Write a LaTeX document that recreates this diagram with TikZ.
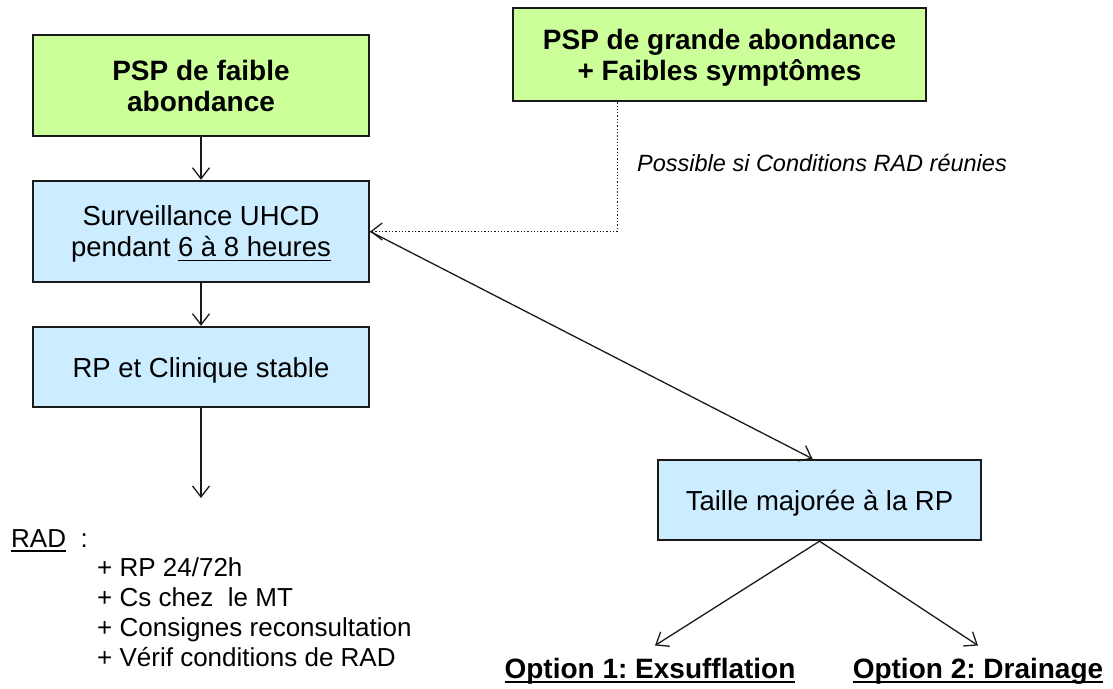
\documentclass[tikz,border=0pt]{standalone}
\usepackage{fontspec}
\setmainfont{Liberation Sans}
\usetikzlibrary{arrows.meta}
\definecolor{leafgreen}{HTML}{CCFF99}
\definecolor{paleblue}{HTML}{CCECFF}
\definecolor{edgeink}{HTML}{1A1A1A}
\frenchspacing
% underline drawn a fixed distance below the baseline, through descenders
\newcommand{\ulined}[2][1.4pt]{%
  \setbox0=\hbox{#2}\rlap{\rule[-4.5pt]{\wd0}{#1}}\box0}
\begin{document}
\begin{tikzpicture}[x=1pt,y=-1pt,
  box/.style={draw=edgeink, line width=2.4pt, align=center, inner sep=0pt},
  oneline/.style={text height=20pt, text depth=0pt},
  greenbox/.style={box, fill=leafgreen, font=\fontsize{28}{31}\selectfont\bfseries},
  bluebox/.style={box, fill=paleblue, font=\fontsize{27.5}{31}\selectfont},
  link/.style={draw=edgeink, line width=1.3pt,
    -{Straight Barb[length=11pt,width=17pt,line width=1.3pt]}},
  optlink/.style={link, dotted},
  optiontext/.style={font=\fontsize{28}{31}\selectfont\bfseries, inner sep=0pt, anchor=base},
  listtext/.style={font=\fontsize{26}{30}\selectfont, align=left, inner sep=0pt},
  notetext/.style={font=\fontsize{23.5}{28}\selectfont\itshape, inner sep=0pt}
]
\useasboundingbox (0,0) rectangle (1113,688);

% left column
\node[greenbox, minimum width=336pt, minimum height=101pt] (faible) at (201,85.5)
  {PSP de faible\\abondance};
\node[bluebox, minimum width=336pt, minimum height=101pt] (surv) at (201,231.5)
  {Surveillance UHCD\\\smash{pendant \ulined{6 à 8 heures}}};
\node[bluebox, oneline, minimum width=336pt, minimum height=80pt] (stable) at (201,367)
  {RP et Clinique stable};
\coordinate (radarrow) at (201,498);

% home discharge instructions
\node[listtext, anchor=base west] (rad) at (11,547) {\ulined{RAD}\ \ :};
\node[listtext, anchor=north west] (radlist) at (97,557)
  {+ RP 24/72h\\+ Cs chez\ \ le MT\\+ Consignes reconsultation\\+ Vérif conditions de RAD};

% right branch
\node[greenbox, minimum width=413pt, minimum height=93pt] (grande) at (719.5,54.5)
  {PSP de grande abondance\\\smash{+ Faibles symptômes}};
\node[notetext, anchor=west] (note) at (637,163) {Possible si Conditions RAD réunies};
\node[bluebox, oneline, minimum width=323pt, minimum height=80pt] (taille) at (819.5,500)
  {Taille majorée à la RP};
\node[optiontext] (opt1) at (650,678) {\ulined[1.8pt]{Option 1: Exsufflation}};
\node[optiontext] (opt2) at (978,678) {\ulined[1.8pt]{Option 2: Drainage}};

% connectors
\draw[link] (faible.south) -- (surv.north);
\draw[link] (surv.south) -- (stable.north);
\draw[link] (stable.south) -- (radarrow);
\draw[optlink, line width=1pt] ([xshift=-102.5pt]grande.south) |- (surv.east);
\draw[link] (surv.east) -- ([xshift=-7pt]taille.north);
\draw[link] (taille.south) -- ([xshift=5pt,yshift=12pt]opt1.north);
\draw[link] (taille.south) -- ([yshift=12pt]opt2.north);
\end{tikzpicture}
\end{document}
